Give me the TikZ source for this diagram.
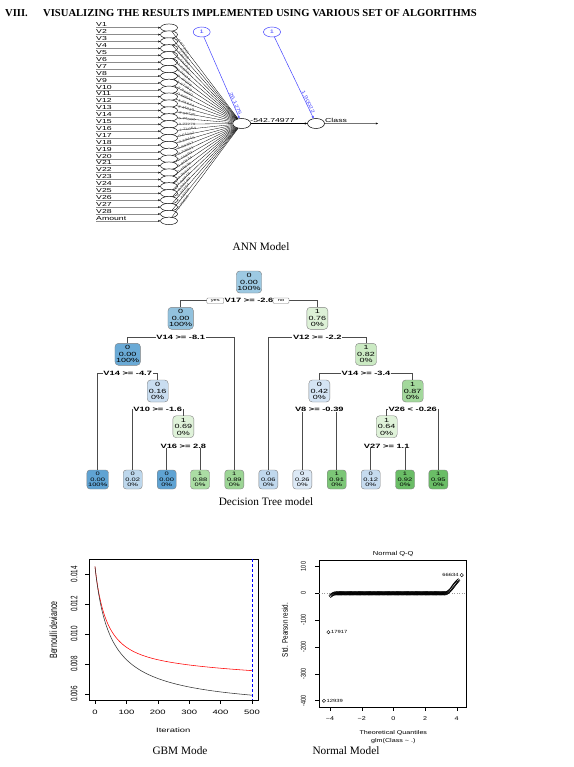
\documentclass[tikz,border=0pt]{standalone}
\usepackage{fontspec}
\usepackage{graphicx}
\setmainfont{Liberation Serif}
\newfontfamily\arial{Liberation Sans}
\usetikzlibrary{shapes.geometric,arrows.meta}
\newcommand\hs[1]{\scalebox{1.5}[1]{#1}}
\newcommand\hq[1]{\scalebox{1.3}[1]{#1}}
\newcommand\vs[1]{\scalebox{1.5}[1]{\rotatebox{90}{#1}}}
\newcommand\vq[1]{\scalebox{1.3}[1]{\rotatebox{90}{#1}}}
\newcommand\trn[3]{\hs{#1}\\\hs{#2}\\\hs{#3}}
\definecolor{annblue}{HTML}{4343FF}
\definecolor{cRoot}{HTML}{9DC9E2}
\definecolor{cBa}{HTML}{92C2DE}
\definecolor{cLL}{HTML}{6AAAD6}
\definecolor{cBb}{HTML}{C9DDF0}
\definecolor{cBc}{HTML}{D4E4F4}
\definecolor{cGa}{HTML}{DFF2D9}
\definecolor{cGb}{HTML}{DDF1D7}
\definecolor{cGc}{HTML}{CBEAC3}
\definecolor{cGd}{HTML}{A3D89C}
\definecolor{lBa}{HTML}{5FA3D3}
\definecolor{lBb}{HTML}{BDD7EC}
\definecolor{lBc}{HTML}{C0D8ED}
\definecolor{lBd}{HTML}{DCE9F6}
\definecolor{lBe}{HTML}{C6DBEF}
\definecolor{lGa}{HTML}{ABDDA4}
\definecolor{lGb}{HTML}{9CD595}
\definecolor{lGc}{HTML}{7CC677}
\definecolor{lGd}{HTML}{6ABD66}
\begin{document}
\begin{tikzpicture}[x=1pt,y=-1pt,
  captxt/.style={font=\fontsize{11.3}{13}\selectfont, inner sep=0},
  annlab/.style={font=\arial\fontsize{5.8}{6}\selectfont, inner sep=0, anchor=south west},
  innode/.style={ellipse, draw, fill=white, line width=0.45, minimum width=17, minimum height=7.5, inner sep=0},
  hidnode/.style={ellipse, draw, fill=white, line width=0.5, minimum width=18, minimum height=10, inner sep=0},
  biasnode/.style={ellipse, draw=annblue, line width=0.5, minimum width=17, minimum height=10, inner sep=0, text=annblue, font=\arial\fontsize{5}{5}\selectfont},
  inline/.style={draw=black!45, line width=0.4, -{Stealth[length=2.2pt,width=2pt,color=black]}},
  wline/.style={black, line width=0.3},
  wlab/.style={font=\arial\fontsize{3.1}{3.3}\selectfont, inner sep=0, text=black!75},
  blab/.style={font=\arial\fontsize{4.5}{5}\selectfont, inner sep=0.5, text=annblue},
  tnode/.style={rounded corners=3.5, draw=black!50, line width=0.4, align=center, font=\arial\fontsize{6}{6.4}\selectfont, inner xsep=1.2, inner ysep=1.2, minimum width=21, minimum height=22},
  leaf/.style={tnode, font=\arial\fontsize{5}{5.6}\selectfont, minimum width=19, minimum height=19, rounded corners=3},
  slab/.style={font=\arial\bfseries\fontsize{6.2}{6.2}\selectfont, fill=white, inner xsep=0.8, inner ysep=0.3},
  branch/.style={draw=black!70, line width=0.5},
  yn/.style={rounded corners=1, draw=black!55, fill=white, line width=0.35, font=\arial\fontsize{3.8}{4}\selectfont, inner sep=0, minimum height=5.5},
  plab/.style={font=\arial\fontsize{6.3}{7}\selectfont, inner sep=0},
  qlab/.style={font=\arial\fontsize{5.5}{6}\selectfont, inner sep=0},
  qqpt/.style={line width=0.4, black}
]
\useasboundingbox (0,0) rectangle (573,767);

% ---------- title ----------
\node[anchor=west, inner sep=0, font=\bfseries\fontsize{10.6}{12}\selectfont] (sec) at (5,13) {VIII.};
\node[anchor=west, inner sep=0, font=\bfseries\fontsize{10.6}{12}\selectfont] (title) at (43,13) {VISUALIZING THE RESULTS IMPLEMENTED USING VARIOUS SET OF ALGORITHMS};

% ---------- ANN ----------
\foreach \i in {1,...,29}{
  \pgfmathsetmacro\yy{27.7+6.9*(\i-1)}
  \node[innode] (in\i) at (169,\yy) {};
  \coordinate (ls\i) at (96,\yy);
  \node[annlab] (lab\i) at (96,{\yy-0.5}) {\hs{\ifnum\i<29 V\i\else Amount\fi}};
}
\foreach \i in {1,...,29} \draw[inline] (ls\i) -- (in\i);

\node[hidnode] (hid) at (241.7,123.5) {};
\node[hidnode, minimum width=17] (out) at (316,123.5) {};
\node[biasnode] (b1) at (201.7,32) {\hs{1}};
\node[biasnode] (b2) at (272,32) {\hs{1}};

\foreach \i/\w in {1/-0.87241, 2/1.32518, 3/-2.01763, 4/0.64192, 5/-1.55307, 6/3.20416, 7/-0.40928, 8/1.17763, 9/-2.86350, 10/0.93541, 11/-1.21674, 12/2.44019, 13/-3.06725, 14/5.32682, 15/3.77279, 16/-1.71964, 17/0.61182, 18/-2.29415, 19/1.08357, 20/-0.73621, 21/2.15893, 22/-1.90274, 23/0.48836, 24/-0.35517, 25/1.62948, 26/-0.92103, 27/0.27754, 28/-1.43309, 29/0.05816}
  \draw[wline] (in\i) -- (hid) node[wlab, pos=0.17, sloped] {\hs{\w}};

\draw[black, line width=0.5, -{Stealth[length=2.5pt,width=2.2pt]}] (hid) -- (out);
\node[annlab, anchor=south] (wout) at (272.5,123) {\hs{-542.74977}};
\node[annlab] (cls) at (325,123) {\hs{Class}};
\coordinate (oend) at (378,123.5);
\draw[black!55, line width=0.4, -{Stealth[length=2.2pt,width=2pt,color=black]}] (out) -- (oend);

\draw[annblue, line width=0.5, -{Stealth[length=2.5pt,width=2.2pt]}] (b1) -- (hid) node[blab, pos=0.83, sloped, above] {\hs{26.1275}};
\draw[annblue, line width=0.5, -{Stealth[length=2.5pt,width=2.2pt]}] (b2) -- (out) node[blab, pos=0.81, sloped, above] {\hs{1.90022}};

\node[captxt] (capann) at (261,247) {ANN Model};

% ---------- Decision tree ----------
\node[tnode, fill=cRoot] (t1) at (249,282) {\trn{0}{0.00}{100\%}};
\node[tnode, fill=cBa] (t2) at (180.7,318.3) {\trn{0}{0.00}{100\%}};
\node[tnode, fill=cGb] (t3) at (317.3,318.3) {\trn{1}{0.76}{0\%}};
\node[tnode, fill=cLL] (t4) at (127.7,354.3) {\trn{0}{0.00}{100\%}};
\node[tnode, fill=cGc] (t7) at (366,354.3) {\trn{1}{0.82}{0\%}};
\node[tnode, fill=cBb] (t9) at (157.7,391) {\trn{0}{0.16}{0\%}};
\node[tnode, fill=cBc] (t14) at (319.3,391) {\trn{0}{0.42}{0\%}};
\node[tnode, fill=cGd] (t15) at (412.7,391) {\trn{1}{0.87}{0\%}};
\node[tnode, fill=cGa] (t19) at (183.3,426.7) {\trn{1}{0.69}{0\%}};
\node[tnode, fill=cGa] (t30) at (386.7,426.7) {\trn{1}{0.64}{0\%}};

\node[leaf, fill=lBa] (f1) at (97.7,479.5) {\trn{0}{0.00}{100\%}};
\node[leaf, fill=lBb] (f2) at (132.7,479.5) {\trn{0}{0.02}{0\%}};
\node[leaf, fill=lBa] (f3) at (166.7,479.5) {\trn{0}{0.00}{0\%}};
\node[leaf, fill=lGa] (f4) at (200,479.5) {\trn{1}{0.88}{0\%}};
\node[leaf, fill=lGb] (f5) at (234.3,479.5) {\trn{1}{0.89}{0\%}};
\node[leaf, fill=lBc] (f6) at (268.3,479.5) {\trn{0}{0.06}{0\%}};
\node[leaf, fill=lBd] (f7) at (302.3,479.5) {\trn{0}{0.26}{0\%}};
\node[leaf, fill=lGc] (f8) at (336.7,479.5) {\trn{1}{0.91}{0\%}};
\node[leaf, fill=lBe] (f9) at (370.7,479.5) {\trn{0}{0.12}{0\%}};
\node[leaf, fill=lGd] (f10) at (405,479.5) {\trn{1}{0.92}{0\%}};
\node[leaf, fill=lGd] (f11) at (438.3,479.5) {\trn{1}{0.95}{0\%}};

\coordinate (s1) at (249,300.7);
\coordinate (s2) at (180.7,337);
\coordinate (s3) at (317.3,337);
\coordinate (s4) at (127.7,373.3);
\coordinate (s7) at (366,373.3);
\coordinate (s9) at (157.7,409.7);
\coordinate (s14) at (319.3,409.7);
\coordinate (s15) at (412.7,409.7);
\coordinate (s19) at (183.3,446);
\coordinate (s30) at (386.7,446);

\foreach \s/\a/\b in {s1/t2/t3, s2/t4/f5, s3/f6/t7, s4/f1/t9, s7/t14/t15, s9/f2/t19, s14/f7/f8, s15/t30/f11, s19/f3/f4, s30/f9/f10}
  \draw[branch] (\a.north) -- (\a.north |- \s) -- (\b.north |- \s) -- (\b.north);

\node[slab] (l1) at (s1) {\hs{V17 >= -2.6}};
\node[yn, minimum width=17] (yes) at (215.3,300.7) {\hs{yes}};
\node[yn, minimum width=16] (no) at (281,300.7) {\hs{no}};
\node[slab] (l2) at (s2) {\hs{V14 >= -8.1}};
\node[slab] (l3) at (s3) {\hs{V12 >= -2.2}};
\node[slab] (l4) at (s4) {\hs{V14 >= -4.7}};
\node[slab] (l7) at (s7) {\hs{V14 >= -3.4}};
\node[slab] (l9) at (s9) {\hs{V10 >= -1.6}};
\node[slab] (l14) at (s14) {\hs{V8 >= -0.39}};
\node[slab] (l15) at (s15) {\hs{V26 < -0.26}};
\node[slab] (l19) at (s19) {\hs{V16 >= 2.8}};
\node[slab] (l30) at (s30) {\hs{V27 >= 1.1}};

\node[captxt] (captree) at (266,502) {Decision Tree model};

% ---------- GBM plot ----------
\draw[line width=0.5] (89.3,559) rectangle (258.3,700);
\foreach \v/\t in {574.2/0.014, 604.1/0.012, 634.1/0.010, 664/0.008, 694/0.006}{
  \draw[line width=0.4] (89.3,\v) -- (85.3,\v);
  \node[plab] at (74,\v) {\vs{\t}};
}
\foreach \x/\t in {95/0, 126.4/100, 157.8/200, 189.2/300, 220.6/400, 252/500}{
  \draw[line width=0.4] (\x,700) -- (\x,704);
  \node[plab] at (\x,712.7) {\hs{\t}};
}
\node[plab] (itl) at (173.3,730) {\hs{Iteration}};
\node[plab, font=\arial\fontsize{7}{8}\selectfont] (bdl) at (53.3,630) {\vs{Bernoulli deviance}};
\draw[red, line width=0.55] plot[domain=0:500, samples=150, smooth] ({95+0.314*\x}, {713.47-146.76/((1+\x/40)^0.8)-25.46*(1-exp(-\x/150))});
\draw[black!80, line width=0.55] plot[domain=0:500, samples=150, smooth] ({95+0.314*\x}, {713.47-146.76/((1+\x/40)^0.8)});
\draw[blue, line width=0.9, dash pattern=on 3pt off 2pt] (252,559) -- (252,700);
\node[captxt] (capgbm) at (180,751) {GBM Mode};

% ---------- Normal Q-Q ----------
\draw[line width=0.5] (319.3,560) rectangle (466,707);
\foreach \v/\t in {566.5/100, 593.3/0, 620.1/-100, 646.9/-200, 673.7/-300, 700.5/-400}{
  \draw[line width=0.4] (319.3,\v) -- (315.3,\v);
  \node[qlab] at (303.3,\v) {\vq{\t}};
}
\foreach \x/\t in {330/−4, 361.7/−2, 393.3/0, 425/2, 456.7/4}{
  \draw[line width=0.4] (\x,707) -- (\x,711);
  \node[qlab] at (\x,718.3) {\hq{\t}};
}
\node[qlab, font=\arial\fontsize{5.8}{6}\selectfont] (qqt) at (393.3,554) {\hq{Normal Q-Q}};
\node[qlab] (tq) at (393.3,733.3) {\hq{Theoretical Quantiles}};
\node[qlab] (gl) at (393.3,741) {\hq{glm(Class \textasciitilde{} .)}};
\node[qlab, font=\arial\fontsize{6.3}{7}\selectfont] (spr) at (285,630) {\vq{Std. Pearson resid.}};
\draw[black!40, dotted, line width=0.5] (319.3,593.3) -- (466,593.3);
\begin{scope}[shift={(393.3,593.3)}, x=15.83pt, y=0.268pt]
  \foreach \q in {-3.6,-3.56,...,3.32} \draw[qqpt] (\q,0) circle[radius=1.8pt];
  \foreach \q/\r in {-3.95/-9, -3.9/-6, -3.85/-4, -3.8/-2.5, -3.75/-1.5, -3.7/-0.8, -3.65/-0.4, 3.36/1, 3.4/2, 3.45/4, 3.5/6, 3.55/9, 3.6/12, 3.65/15, 3.7/19, 3.75/23, 3.8/27, 3.85/31, 3.9/35, 3.95/39, 4.0/42, 4.05/45, 4.1/48}
    \draw[qqpt] (\q,\r) circle[radius=1.8pt];
  \draw[qqpt] (4.32,68) circle[radius=1.7pt];
  \draw[qqpt] (-4.1,-145) circle[radius=1.7pt];
  \draw[qqpt] (-4.38,-401) circle[radius=1.7pt];
\end{scope}
\node[qlab, anchor=east, font=\arial\fontsize{4.5}{5}\selectfont] (p66) at (458.8,575) {\hq{66634}};
\node[qlab, anchor=west, font=\arial\fontsize{4.5}{5}\selectfont] (p17) at (330.8,632.2) {\hq{17917}};
\node[qlab, anchor=west, font=\arial\fontsize{4.5}{5}\selectfont] (p12) at (326.5,700.8) {\hq{12939}};
\node[captxt] (capqq) at (346,751) {Normal Model};
\end{tikzpicture}
\end{document}
